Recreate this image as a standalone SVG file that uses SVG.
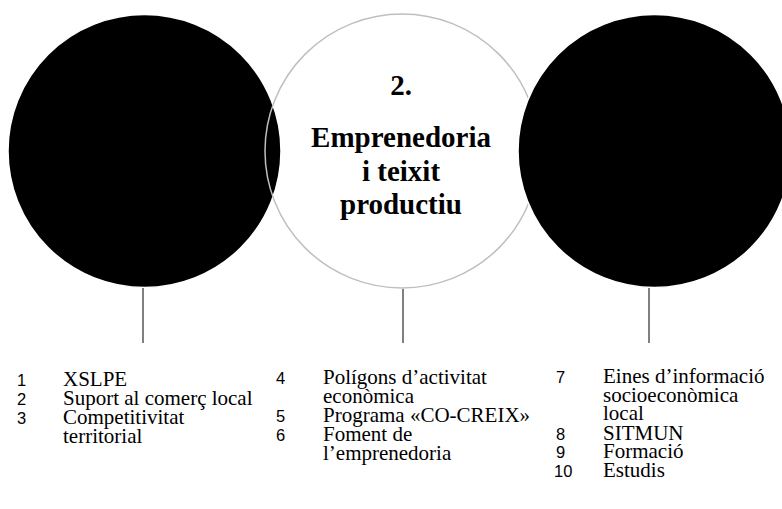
<svg xmlns="http://www.w3.org/2000/svg" width="782" height="509" viewBox="0 0 782 509">
<style>
.blk{fill:#000;stroke:#fff;stroke-width:1.5}
.ring{fill:none;stroke:#bfbfbf;stroke-width:1.5}
.stem{stroke:#808080;stroke-width:2}
.ttl{font-family:"Liberation Serif","Times New Roman",serif;font-weight:bold;font-size:29px;fill:#000;text-anchor:middle}
.num{font-family:"Liberation Sans",Arial,sans-serif;font-size:16.5px;fill:#000}
.itm{font-family:"Liberation Serif","Times New Roman",serif;font-size:21px;fill:#000}
</style>
<rect width="782" height="509" fill="#fff"/>
<g id="node-1">
<circle class="blk" cx="144.5" cy="151" r="136.5"/>
</g>
<g id="node-2">
<circle class="ring" cx="402" cy="151" r="137"/>
<text class="ttl" x="401" y="95">2.</text>
<text class="ttl" x="401" y="147">Emprenedoria</text>
<text class="ttl" x="401" y="181">i teixit</text>
<text class="ttl" x="401" y="214">productiu</text>
</g>
<g id="node-3">
<circle class="blk" cx="654.5" cy="151" r="136.5"/>
</g>
<g id="connectors">
<line class="stem" x1="143" y1="288" x2="143" y2="343"/>
<line class="stem" x1="403" y1="289" x2="403" y2="343"/>
<line class="stem" x1="649" y1="288" x2="649" y2="343"/>
</g>
<g id="list-1">
<text class="num" x="17" y="386">1</text><text class="itm" x="63" y="386">XSLPE</text>
<text class="num" x="17" y="405">2</text><text class="itm" x="63" y="405">Suport al comerç local</text>
<text class="num" x="17" y="424">3</text><text class="itm" x="63" y="424">Competitivitat</text>
<text class="itm" x="63" y="443">territorial</text>
</g>
<g id="list-2">
<text class="num" x="276" y="384">4</text><text class="itm" x="323" y="384">Polígons d’activitat</text>
<text class="itm" x="323" y="403">econòmica</text>
<text class="num" x="276" y="422">5</text><text class="itm" x="323" y="422">Programa «CO-CREIX»</text>
<text class="num" x="276" y="441">6</text><text class="itm" x="323" y="441">Foment de</text>
<text class="itm" x="323" y="460">l’emprenedoria</text>
</g>
<g id="list-3">
<text class="num" x="556" y="383">7</text><text class="itm" x="603" y="383">Eines d’informació</text>
<text class="itm" x="603" y="402">socioeconòmica</text>
<text class="itm" x="603" y="420">local</text>
<text class="num" x="556" y="440">8</text><text class="itm" x="603" y="440">SITMUN</text>
<text class="num" x="556" y="458">9</text><text class="itm" x="603" y="458">Formació</text>
<text class="num" x="554" y="477">10</text><text class="itm" x="603" y="477">Estudis</text>
</g>
</svg>
